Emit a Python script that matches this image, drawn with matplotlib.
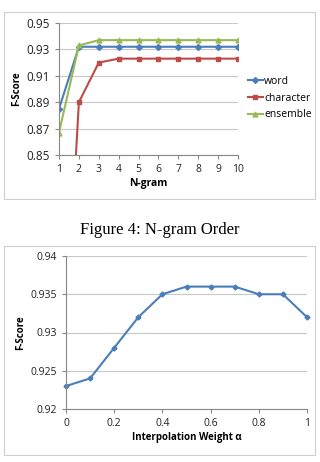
import matplotlib.pyplot as plt
from matplotlib.patches import Rectangle

ngram = [1, 2, 3, 4, 5, 6, 7, 8, 9, 10]
word = [0.885, 0.932, 0.932, 0.932, 0.932, 0.932, 0.932, 0.932, 0.932, 0.932]
character = [0.62, 0.89, 0.920, 0.923, 0.923, 0.923, 0.923, 0.923, 0.923, 0.923]
ensemble = [0.867, 0.933, 0.937, 0.937, 0.937, 0.937, 0.937, 0.937, 0.937, 0.937]

alpha = [0, 0.1, 0.2, 0.3, 0.4, 0.5, 0.6, 0.7, 0.8, 0.9, 1.0]
fscore = [0.923, 0.924, 0.928, 0.932, 0.935, 0.936, 0.936, 0.936, 0.935, 0.935, 0.932]

BLUE = "#4a7ebb"
RED = "#be4b48"
GREEN = "#98b954"
GRID = "#c8c8c8"

plt.rcParams["font.family"] = ["Open Sans", "DejaVu Sans"]

fig = plt.figure(figsize=(3.2, 4.62), dpi=100)
W, H = 320, 462


def box(x0, y0, x1, y1):
    fig.patches.append(Rectangle((x0 / W, 1 - y1 / H), (x1 - x0) / W, (y1 - y0) / H,
                                 transform=fig.transFigure, fill=False,
                                 edgecolor="#d0d0d0", linewidth=0.8))


def style(ax):
    for s in ["top", "right"]:
        ax.spines[s].set_visible(False)
    for s in ["left", "bottom"]:
        ax.spines[s].set_color("#888888")
        ax.spines[s].set_linewidth(0.8)
    ax.grid(axis="y", color=GRID, linewidth=0.8)
    ax.set_axisbelow(True)
    ax.tick_params(colors="#888888", labelcolor="#222222", length=3, width=0.8)


# top chart
box(4, 12, 315, 199)
ax1 = fig.add_axes([59 / W, 1 - 155 / H, (238 - 59) / W, (155 - 23) / H])
style(ax1)
ax1.plot(ngram, word, color=BLUE, marker="D", markersize=3, linewidth=1.5, label="word")
ax1.plot(ngram, character, color=RED, marker="s", markersize=3.5, linewidth=1.5, label="character")
ax1.plot(ngram, ensemble, color=GREEN, marker="^", markersize=3.5, linewidth=1.5, label="ensemble")
ax1.set_xlim(1, 10)
ax1.set_ylim(0.85, 0.95)
ax1.set_xticks(ngram)
ax1.set_yticks([0.85, 0.87, 0.89, 0.91, 0.93, 0.95])
ax1.set_yticklabels(["0.85", "0.87", "0.89", "0.91", "0.93", "0.95"])
ax1.tick_params(axis="y", labelsize=8.5)
ax1.tick_params(axis="x", labelsize=7.5)
ax1.set_xlabel("N-gram", fontsize=7.5, fontweight="bold", labelpad=2)
ax1.set_ylabel("F-Score", fontsize=7, fontweight="bold", labelpad=3)
ax1.legend(loc="center left", bbox_to_anchor=(1.03, 0.43), frameon=False,
           fontsize=7.5, handlelength=1.5, handletextpad=0.1, labelspacing=0.55,
           borderaxespad=0)

# caption
fig.text(160 / W, 1 - 230 / H, "Figure 4: N-gram Order", ha="center", va="center",
         fontsize=12, family=["Liberation Serif", "DejaVu Serif"])

# bottom chart
box(4, 246, 315, 455)
ax2 = fig.add_axes([66 / W, 1 - 409 / H, (307 - 66) / W, (409 - 256) / H])
style(ax2)
ax2.plot(alpha, fscore, color=BLUE, marker="D", markersize=2.5, linewidth=1.5, clip_on=False)
ax2.set_xlim(0, 1)
ax2.set_ylim(0.92, 0.94)
ax2.set_xticks([0, 0.2, 0.4, 0.6, 0.8, 1.0])
ax2.set_xticklabels(["0", "0.2", "0.4", "0.6", "0.8", "1"])
ax2.set_yticks([0.92, 0.925, 0.93, 0.935, 0.94])
ax2.set_yticklabels(["0.92", "0.925", "0.93", "0.935", "0.94"])
ax2.tick_params(labelsize=7.5)
ax2.set_xlabel("Interpolation Weight α", fontsize=7, fontweight="bold", labelpad=2)
ax2.set_ylabel("F-Score", fontsize=7, fontweight="bold", labelpad=3)

fig.savefig("out.png", dpi=100)
